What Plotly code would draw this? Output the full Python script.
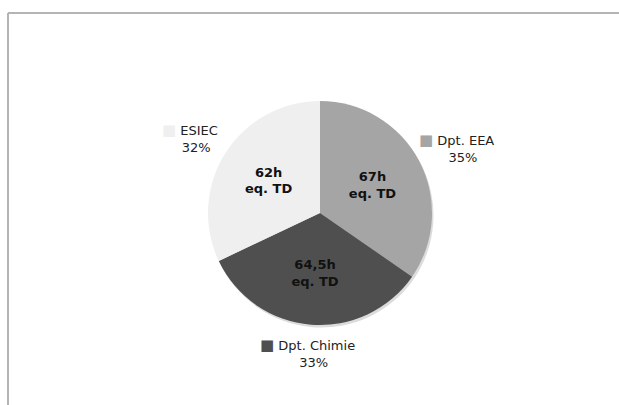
import math
import plotly.graph_objects as go

W, H = 619, 405

labels = ["Dpt. EEA", "Dpt. Chimie", "ESIEC"]
hours = [67, 64.5, 62]
hour_labels = ["67h", "64,5h", "62h"]
colors = ["#a5a5a5", "#4f4f4f", "#efefef"]

# pie geometry (pixels)
cx, cy, R = 320, 213, 112


def dom(x0, y0, r):
    return dict(x=[(x0 - r) / W, (x0 + r) / W], y=[(H - y0 - r) / H, (H - y0 + r) / H])


fig = go.Figure()
# soft shadow behind the pie
fig.add_trace(go.Pie(
    labels=labels, values=hours, sort=False, direction="clockwise",
    marker=dict(colors=["#dcdcdc"] * len(hours), line=dict(width=0)),
    textinfo="none", hoverinfo="skip", showlegend=False,
    domain=dom(cx + 1.5, cy + 2.5, R),
))
fig.add_trace(go.Pie(
    labels=labels,
    values=hours,
    text=[h + "<br>eq. TD" for h in hour_labels],
    textinfo="text",
    textposition="inside",
    insidetextorientation="horizontal",
    textfont=dict(family="DejaVu Sans", size=13, color="#111111", weight="bold"),
    marker=dict(colors=colors, line=dict(width=0)),
    sort=False,
    direction="clockwise",
    rotation=0,
    showlegend=False,
    hoverinfo="label+percent",
    domain=dom(cx, cy, R),
))

total = sum(hours)
annotations = []
cum = 0.0
for lab, v, col in zip(labels, hours, colors):
    frac = v / total
    mid = (cum + frac / 2) * 2 * math.pi
    cum += frac
    s, c = math.sin(mid), math.cos(mid)
    px = cx + 1.375 * R * s
    py = cy - 1.25 * R * c
    pct = round(frac * 100)
    annotations.append(dict(
        x=px / W, y=1 - py / H, xref="paper", yref="paper",
        xanchor="center", yanchor="middle", showarrow=False, align="center",
        text=f'<span style="color:{col};font-size:15px">■</span> {lab}<br>   {pct}%',
        font=dict(family="DejaVu Sans", size=13, color="#222222"),
    ))

border = "#b4b4b4"
shapes = [
    dict(type="line", xref="paper", yref="paper", x0=8 / W, x1=1, y0=1 - 13 / H, y1=1 - 13 / H,
         line=dict(color=border, width=2)),
    dict(type="line", xref="paper", yref="paper", x0=8 / W, x1=8 / W, y0=1 - 13 / H, y1=0,
         line=dict(color=border, width=2)),
]

fig.update_layout(
    width=W, height=H,
    margin=dict(l=0, r=0, t=0, b=0),
    paper_bgcolor="white",
    plot_bgcolor="white",
    annotations=annotations,
    shapes=shapes,
)

fig.write_html("out.html", config={"displayModeBar": False},
               post_script="document.body.style.margin='0';")
